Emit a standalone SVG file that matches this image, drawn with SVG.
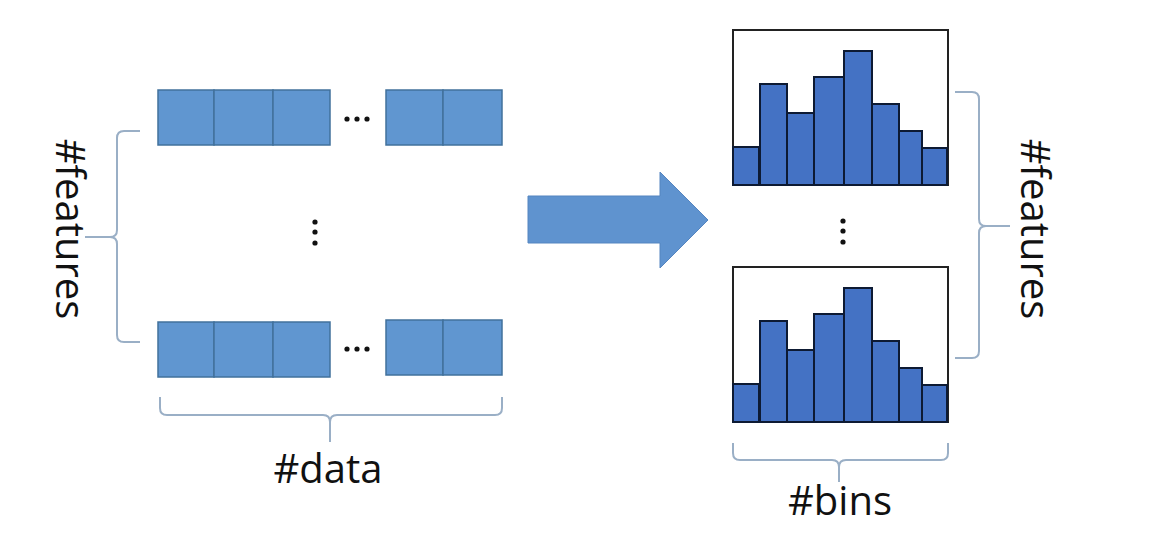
<svg xmlns="http://www.w3.org/2000/svg" width="1170" height="534" viewBox="0 0 1170 534">
<defs>
<style>
.cell{fill:#6096D0;stroke:#41719C;stroke-width:1.5}
.dot{fill:#111}
.brace{fill:none;stroke:#9AAFC6;stroke-width:2}
.bar{fill:#4472C4;stroke:#0D1A33;stroke-width:2}
.frame{fill:#fff;stroke:#222;stroke-width:2}
.lbl{font-family:"Open Sans","Liberation Sans",sans-serif;font-size:40px;fill:#111}
.arrow{fill:#5F93CF;stroke:#5585C0;stroke-width:1}
</style>
<g id="hist">
<rect class="frame" x="733" y="30" width="215" height="155"/>
<rect class="bar" x="733" y="147" width="26" height="38"/>
<rect class="bar" x="760" y="84" width="27" height="101"/>
<rect class="bar" x="787" y="113" width="27" height="72"/>
<rect class="bar" x="814" y="77" width="30" height="108"/>
<rect class="bar" x="844" y="51" width="28" height="134"/>
<rect class="bar" x="872" y="104" width="27" height="81"/>
<rect class="bar" x="899" y="131" width="23" height="54"/>
<rect class="bar" x="922" y="148" width="25" height="37"/>
</g>
</defs>
<rect width="1170" height="534" fill="#fff"/>

<g id="row-top">
<rect class="cell" x="158" y="90" width="56" height="55"/>
<rect class="cell" x="214" y="90" width="59" height="55"/>
<rect class="cell" x="273" y="90" width="57" height="55"/>
<circle class="dot" cx="347" cy="119" r="2.6"/>
<circle class="dot" cx="357" cy="119" r="2.6"/>
<circle class="dot" cx="367" cy="119" r="2.6"/>
<rect class="cell" x="386" y="90" width="57" height="55"/>
<rect class="cell" x="443" y="90" width="59" height="55"/>
</g>

<g id="vdots-left">
<circle class="dot" cx="315" cy="222" r="2.6"/>
<circle class="dot" cx="315" cy="232" r="2.6"/>
<circle class="dot" cx="315" cy="243" r="2.6"/>
</g>

<g id="row-bottom">
<rect class="cell" x="158" y="322" width="56" height="55"/>
<rect class="cell" x="214" y="322" width="59" height="55"/>
<rect class="cell" x="273" y="322" width="57" height="55"/>
<circle class="dot" cx="347" cy="349" r="2.6"/>
<circle class="dot" cx="357" cy="349" r="2.6"/>
<circle class="dot" cx="367" cy="349" r="2.6"/>
<rect class="cell" x="386" y="320" width="57" height="55"/>
<rect class="cell" x="443" y="320" width="59" height="55"/>
</g>

<g id="hist-top"><use href="#hist"/></g>
<g id="vdots-right">
<circle class="dot" cx="843" cy="221" r="2.6"/>
<circle class="dot" cx="843" cy="231" r="2.6"/>
<circle class="dot" cx="843" cy="242" r="2.6"/>
</g>
<g id="hist-bottom"><use href="#hist" transform="translate(0,237)"/></g>

<g id="connectors">
<path class="arrow" d="M528,196 H660 V172 L708,220 L660,268 V243 H528 Z"/>
<path class="brace" d="M140,131 H124 Q117,131 117,138 V230 Q117,237 110,237 H85 M110,237 Q117,237 117,244 V335 Q117,342 124,342 H140"/>
<path class="brace" d="M955,92 H972 Q979,92 979,99 V219 Q979,226 986,226 H1010 M986,226 Q979,226 979,233 V351 Q979,358 972,358 H955"/>
<path class="brace" d="M160,397 V408 Q160,415 167,415 H323 Q330,415 330,422 V442 M330,422 Q330,415 337,415 H495 Q502,415 502,408 V397"/>
<path class="brace" d="M733,443 V453 Q733,460 740,460 H832 Q839,460 839,467 V482 M839,467 Q839,460 846,460 H941 Q948,460 948,453 V443"/>
</g>

<g id="label-features-left">
<text class="lbl" transform="translate(56,229) rotate(90)" text-anchor="middle">#features</text>
</g>
<g id="label-features-right">
<text class="lbl" transform="translate(1021,229) rotate(90)" text-anchor="middle">#features</text>
</g>
<g id="label-data">
<text class="lbl" x="328" y="483" text-anchor="middle">#data</text>
</g>
<g id="label-bins">
<text class="lbl" x="840" y="515" text-anchor="middle">#bins</text>
</g>
</svg>
